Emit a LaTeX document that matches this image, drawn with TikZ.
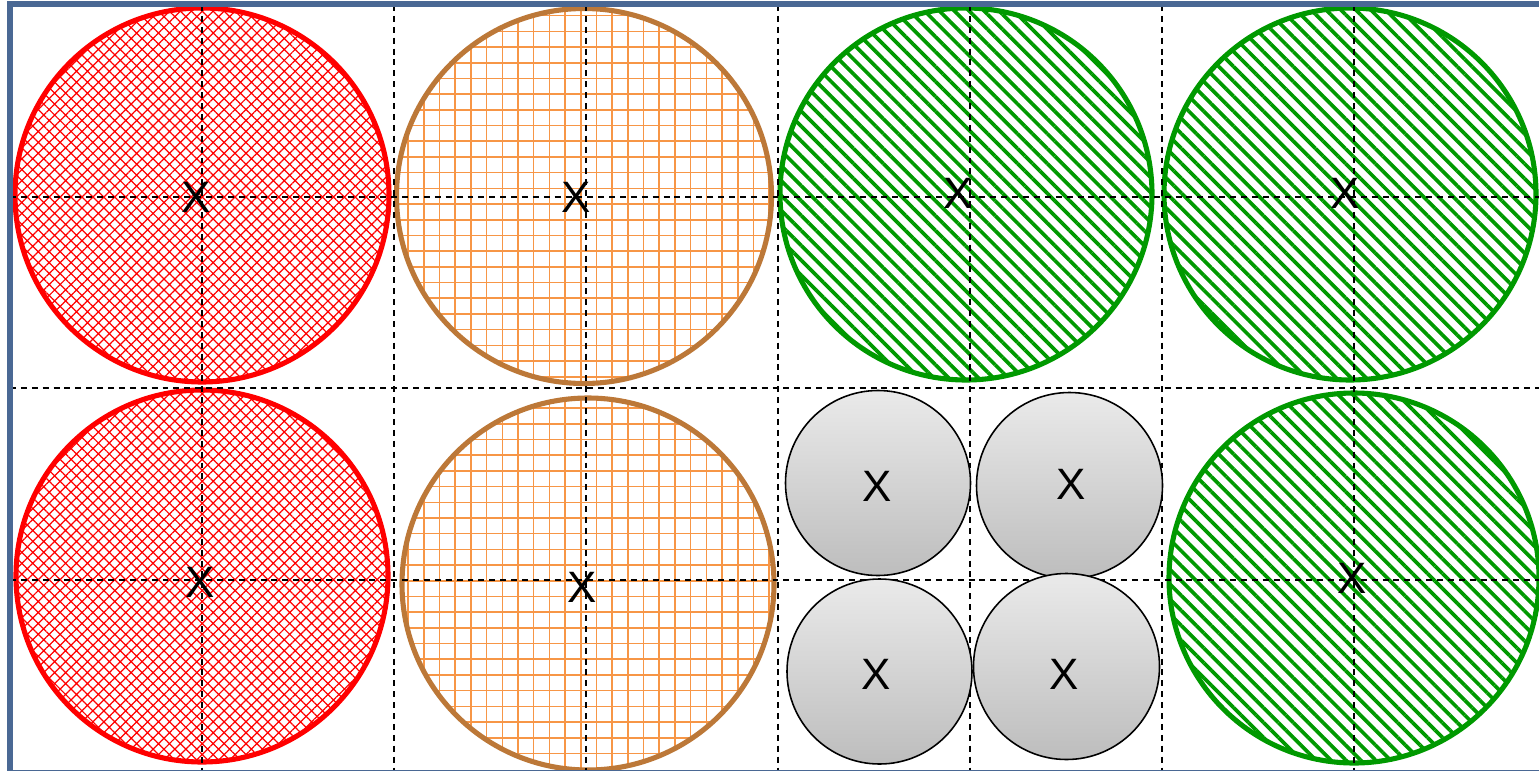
\documentclass[tikz,border=0pt]{standalone}
\usepackage{fontspec}
\setmainfont{Liberation Sans}
\usetikzlibrary{patterns.meta}
\definecolor{framec}{HTML}{4A6894}
\definecolor{redc}{HTML}{FF0000}
\definecolor{orangel}{HTML}{F79646}
\definecolor{oranges}{HTML}{BC7838}
\definecolor{greenc}{HTML}{009900}
\definecolor{graytop}{HTML}{EAEAEA}
\definecolor{graybot}{HTML}{BDBDBD}
\tikzset{
  px/.style={x=0.02cm,y=-0.02cm},
  gridline/.style={draw=black,line width=1pt,dash pattern=on 3.4pt off 2.8pt},
  bigc/.style={circle,inner sep=0pt,outer sep=0pt,line width=2.9pt},
  redcirc/.style={bigc,draw=redc,pattern={Hatch[angle=45,distance=4.4pt,line width=0.7pt]},pattern color=redc},
  orangecirc/.style={bigc,draw=oranges},
  orangegrid/.style={draw=orangel,line width=0.9pt,step=0.314cm},
  greencirc/.style={bigc,draw=greenc,pattern={Lines[angle=-45,distance=6pt,line width=2.1pt]},pattern color=greenc},
  graycirc/.style={circle,inner sep=0pt,outer sep=0pt,draw=black,line width=0.9pt,top color=graytop,bottom color=graybot},
  xlab/.style={inner sep=0pt,font=\fontsize{25}{26}\selectfont}
}
\begin{document}
\begin{tikzpicture}[px]
\useasboundingbox (0,0) rectangle (1539,771);
% orange grids (clipped)
\begin{scope}
  \clip (584,196) circle[radius=187.5];
  \draw[orangegrid] (390,0) grid (780,400);
\end{scope}
\begin{scope}
  \clip (588,584) circle[radius=186];
  \draw[orangegrid] (395,390) grid (785,775);
\end{scope}
% patterned circles
\node[redcirc,minimum size=374*0.02cm] (r1) at (202,195) {};
\node[orangecirc,minimum size=375*0.02cm] (o1) at (584,196) {};
\node[greencirc,minimum size=372*0.02cm] (g1) at (966,194) {};
\node[greencirc,minimum size=372*0.02cm] (g2) at (1350,194) {};
\node[redcirc,minimum size=372*0.02cm] (r2) at (202,576) {};
\node[orangecirc,minimum size=372*0.02cm] (o2) at (588,584) {};
\node[greencirc,minimum size=370*0.02cm] (g3) at (1354,578) {};
% grid
\foreach \gx in {202,394,586,778,970,1162,1354}
  \draw[gridline] (\gx,5) -- (\gx,771);
\foreach \gy in {197,580}
  \draw[gridline] (10,\gy) -- (1539,\gy);
% gray circles
\node[graycirc,minimum size=185*0.02cm] (ga) at (878,483) {};
\node[graycirc,minimum size=186*0.02cm] (gb) at (1069.5,485.5) {};
\node[graycirc,minimum size=185*0.02cm] (gc) at (879.5,671.5) {};
\node[graycirc,minimum size=186*0.02cm] (gd) at (1066.5,666.5) {};
\draw[gridline] (10,388) -- (1539,388);
% labels
\node[xlab] (x1) at (196,197) {X};
\node[xlab] (x2) at (576,197) {X};
\node[xlab] (x3) at (958,193) {X};
\node[xlab] (x4) at (1345,193) {X};
\node[xlab] (x5) at (200,582) {X};
\node[xlab] (x6) at (582,587) {X};
\node[xlab] (x7) at (877,486) {X};
\node[xlab] (x8) at (1071,484) {X};
\node[xlab] (x9) at (876,674) {X};
\node[xlab] (x10) at (1064,674) {X};
\node[xlab] (x11) at (1352,578) {X};
% frame
\draw[framec,line width=3pt] (10,4) rectangle (1548,773);
\end{tikzpicture}
\end{document}
